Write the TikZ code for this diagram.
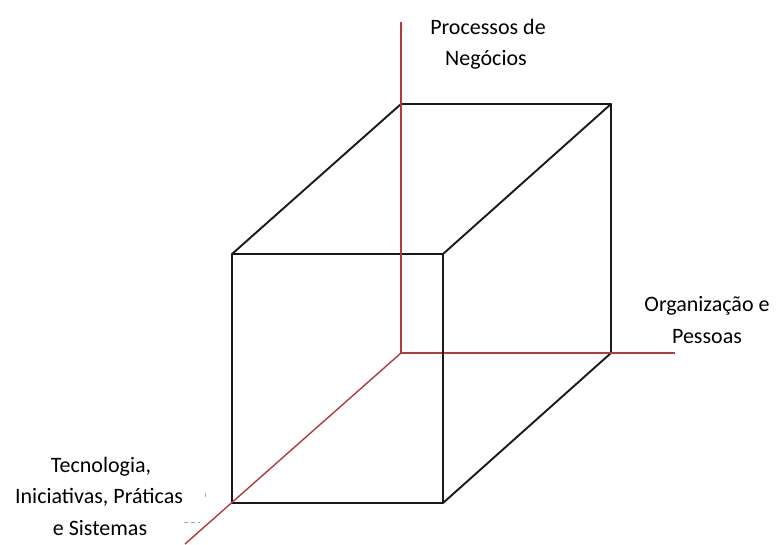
\documentclass[tikz,border=0pt]{standalone}
\usepackage{fontspec}
\setmainfont{Carlito}
\definecolor{axisred}{RGB}{178,58,58}
\definecolor{edgeblack}{RGB}{25,25,25}
\definecolor{speck}{RGB}{170,170,170}
\begin{document}
\begin{tikzpicture}[x=1pt,y=-1pt,
  edge/.style={draw=edgeblack, line width=1.9pt, line join=round},
  axis/.style={draw=axisred, line width=1.4pt},
  lbl/.style={font=\fontsize{22}{31}\selectfont, anchor=base, inner sep=0pt, text=black}]
\useasboundingbox[fill=white] (0,0) rectangle (776,544);
% axes end points
\coordinate (O) at (401,353);
\coordinate (Ztop) at (401,22);
\coordinate (Xend) at (675,353);
\coordinate (Yend) at (185,544);
% cube corners
\coordinate (FTL) at (232,254);
\coordinate (FTR) at (443,254);
\coordinate (FBR) at (443,503);
\coordinate (FBL) at (232,503);
\coordinate (BTL) at (401,104);
\coordinate (BTR) at (611,104);
\coordinate (BBR) at (611,353);
% cube
\draw[edge] (FTL) -- (FTR) -- (FBR) -- (FBL) -- cycle;
\draw[edge] (FTL) -- (BTL) -- (BTR) -- (FTR);
\draw[edge] (BTR) -- (BBR) -- (FBR);
% axes
\draw[axis] (Ztop) -- (O);
\draw[axis] (O) -- (Xend);
\draw[axis] (O) -- (Yend);
\draw[edge] (FTR) -- (FBR);
% faint specks
\draw[speck, line width=0.6pt, dash pattern=on 4pt off 3pt] (184,522) -- (200,522);
\draw[speck, line width=0.6pt] (205,493) -- (205,497);
% labels
\node[lbl] (p1) at (488,34) {Processos de};
\node[lbl] (p2) at (486,65) {Negócios};
\node[lbl] (o1) at (707,311) {Organização e};
\node[lbl] (o2) at (707,343) {Pessoas};
\node[lbl] (t1) at (101,472) {Tecnologia,};
\node[lbl] (t2) at (99,503) {Iniciativas, Práticas};
\node[lbl] (t3) at (100,535) {e Sistemas};
\end{tikzpicture}
\end{document}
